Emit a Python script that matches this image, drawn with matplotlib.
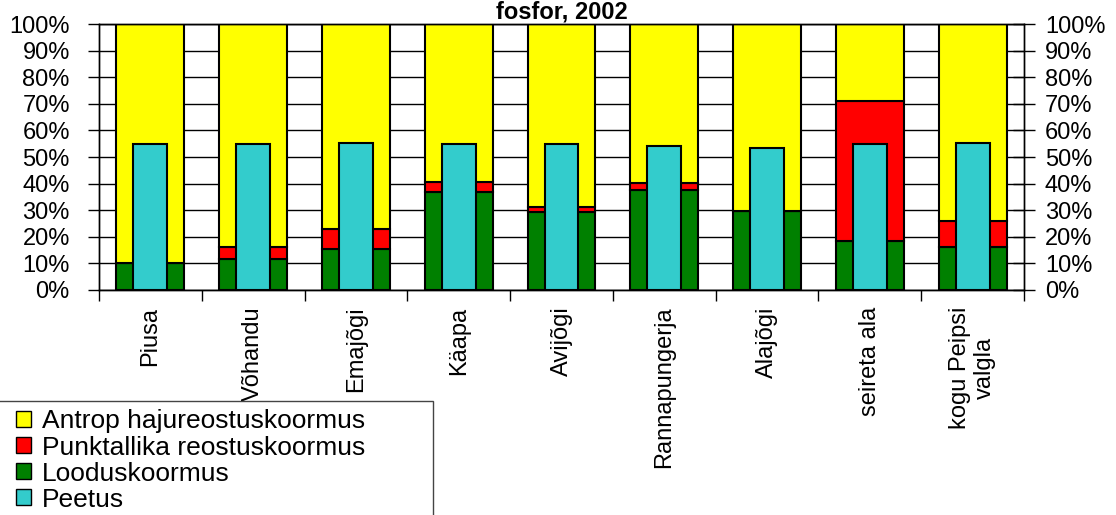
import numpy as np
import matplotlib.pyplot as plt
from matplotlib.patches import Patch, Rectangle
from matplotlib.ticker import PercentFormatter

plt.rcParams['font.family'] = ['Liberation Sans', 'DejaVu Sans']

# Data (percent of total load)
categories = ['Piusa', 'Võhandu', 'Emajõgi', 'Käapa', 'Avijõgi',
              'Rannapungerja', 'Alajõgi', 'seireta ala', 'kogu Peipsi\nvalgla']
loodus = [10.3, 11.8, 15.5, 36.8, 29.4, 37.5, 29.6, 18.3, 16.2]
punkt = [0.0, 4.5, 7.3, 3.9, 1.7, 2.6, 0.0, 52.9, 9.7]
antrop = [100 - a - b for a, b in zip(loodus, punkt)]
peetus = [54.8, 54.8, 55.4, 54.8, 54.8, 54.1, 53.4, 54.8, 55.4]

col_antrop = '#FFFF00'
col_punkt = '#FF0000'
col_loodus = '#008000'
col_peetus = '#33CCCC'

fig = plt.figure(figsize=(11.16, 5.15), dpi=100)
ax = fig.add_axes([99 / 1116, (515 - 290) / 515, 925 / 1116, 266 / 515])

x = np.arange(len(categories))
w = 0.66
ec = dict(edgecolor='black', linewidth=1.5)

ax.bar(x, loodus, w, color=col_loodus, zorder=2, **ec)
ax.bar(x, punkt, w, bottom=loodus, color=col_punkt, zorder=2, **ec)
bottom2 = [a + b for a, b in zip(loodus, punkt)]
ax.bar(x, antrop, w, bottom=bottom2, color=col_antrop, zorder=2, **ec)
ax.bar(x, peetus, w / 2, color=col_peetus, zorder=3, **ec)

ax.set_xlim(-0.5, len(categories) - 0.5)
ax.set_ylim(0, 100)
yt = np.arange(0, 101, 10)
ax.set_yticks(yt)
ax.yaxis.set_major_formatter(PercentFormatter(decimals=0))
ax.grid(axis='y', color='black', linewidth=1, zorder=0)
ax.set_axisbelow(True)

# category boundaries as ticks, names as minor labels
ax.set_xticks(np.arange(-0.5, len(categories), 1))
ax.set_xticklabels([])
ax.set_xticks(x, minor=True)
ax.set_xticklabels(categories, minor=True, rotation=90, fontsize=17,
                   va='top', ha='center', multialignment='center')
ax.tick_params(axis='x', which='major', length=8, width=1, direction='out')
ax.tick_params(axis='x', which='minor', length=0, pad=12)
ax.tick_params(axis='y', which='major', labelsize=17, length=8, width=1,
               direction='out', pad=13)

# right-hand axis, same scale
ax2 = ax.twinx()
ax2.set_ylim(0, 100)
ax2.set_yticks(yt)
ax2.yaxis.set_major_formatter(PercentFormatter(decimals=0))
ax2.tick_params(axis='y', labelsize=17, length=16, width=1,
                direction='inout', pad=7)

for a in (ax, ax2):
    for s in a.spines.values():
        s.set_linewidth(1)
        s.set_color('black')

ax.set_title('fosfor, 2002', fontsize=17, fontweight='bold', pad=3)

# legend box (runs off the left and bottom edges like the original)
fig.patches.append(Rectangle((-2 / 1116, -0.05), 435 / 1116, 0.05 + (515 - 401) / 515,
                             transform=fig.transFigure, facecolor='white',
                             edgecolor='#444444', linewidth=1))
handles = [Patch(facecolor=col_antrop, edgecolor='black', label='Antrop hajureostuskoormus'),
           Patch(facecolor=col_punkt, edgecolor='black', label='Punktallika reostuskoormus'),
           Patch(facecolor=col_loodus, edgecolor='black', label='Looduskoormus'),
           Patch(facecolor=col_peetus, edgecolor='black', label='Peetus')]
leg = fig.legend(handles=handles, loc='upper left',
                 bbox_to_anchor=(8 / 1116, (515 - 401) / 515),
                 fontsize=19, frameon=False,
                 handlelength=0.56, handleheight=0.56, handletextpad=0.4,
                 labelspacing=0.08, borderpad=0.32, borderaxespad=0)

fig.savefig('out.png', dpi=100)
